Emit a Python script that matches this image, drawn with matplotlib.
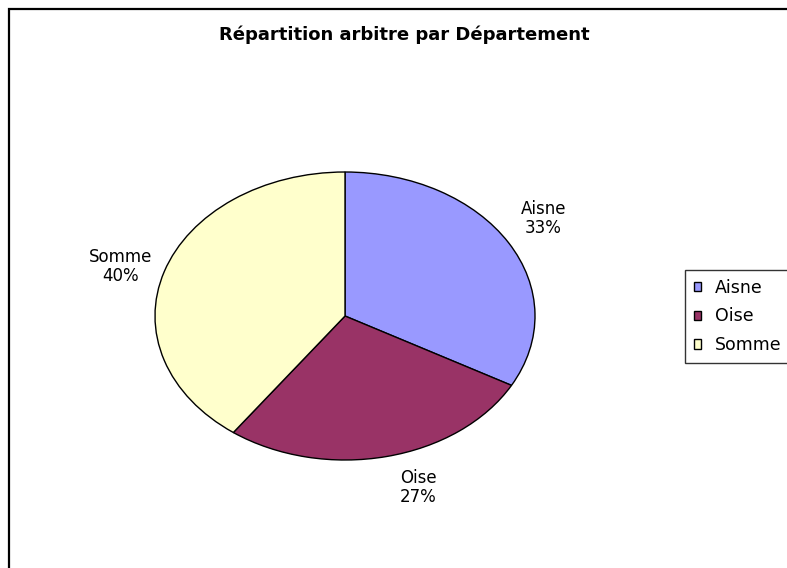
import numpy as np
import matplotlib
matplotlib.use("Agg")
import matplotlib.pyplot as plt
from matplotlib.patches import Rectangle

categories = ["Aisne", "Oise", "Somme"]
values = [33, 27, 40]
colors = ["#9999ff", "#993366", "#ffffcc"]
title = "Répartition arbitre par Département"

plt.rcParams['font.family'] = ['DejaVu Sans']

W, H = 787, 568
fig = plt.figure(figsize=(W / 100, H / 100), dpi=100)

# chart border (extends beyond right/bottom edges)
fig.patches.append(Rectangle((9 / W, -0.05), 1.1, 1 - 9 / H + 0.05, transform=fig.transFigure,
                             fill=False, edgecolor="black", linewidth=1.6))

cx, cy, rx, ry = 345, 568 - 316, 190, 144
ax = fig.add_axes([(cx - 1.25 * rx) / W, (cy - 1.25 * ry) / H, 2.5 * rx / W, 2.5 * ry / H])
wedges, _ = ax.pie(values, colors=colors, startangle=90, counterclock=False,
                   wedgeprops=dict(edgecolor="black", linewidth=1.0))
ax.set_aspect('auto')
ax.set_xlim(-1.25, 1.25)
ax.set_ylim(-1.25, 1.25)
ax.axis('off')

# label offsets (pixels) from the wedge's outer mid-point: Aisne, Oise, Somme
offsets = [(35, 24), (32, -31), (-44, 5)]
total = sum(values)
for w, cat, v, off in zip(wedges, categories, values, offsets):
    mid = np.deg2rad((w.theta1 + w.theta2) / 2)
    ax.annotate(f"{cat}\n{round(100 * v / total)}%", xy=(np.cos(mid), np.sin(mid)),
                xytext=off, textcoords="offset pixels", ha="center", va="center",
                fontsize=12, linespacing=1.1)

fig.text(404 / W, 1 - 35 / H, title, ha="center", va="center", fontsize=13,
         fontweight="bold")

leg = fig.legend(wedges, categories, loc="upper left", bbox_to_anchor=(685 / W, 1 - 270 / H),
                 frameon=True, fancybox=False, fontsize=12.5, handlelength=0.45,
                 handleheight=0.45, handletextpad=0.75, labelspacing=0.62,
                 borderpad=0.5, borderaxespad=0)
leg.get_frame().set_edgecolor("black")
leg.get_frame().set_linewidth(1.0)
for h in leg.legend_handles:
    h.set_edgecolor("black")
    h.set_linewidth(1.0)

fig.savefig("out.png", dpi=100)
